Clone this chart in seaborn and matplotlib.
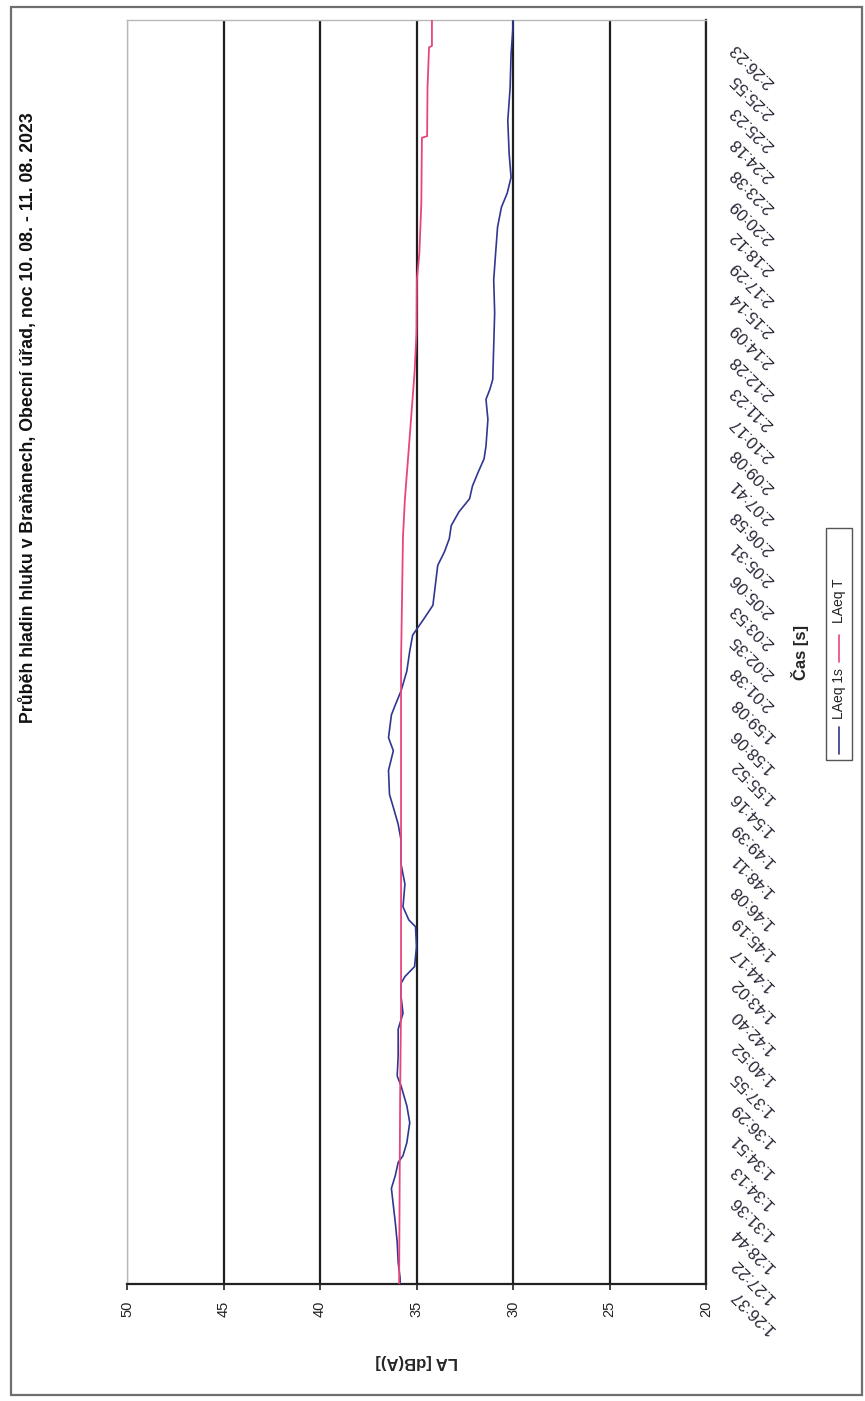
import numpy as np
import pandas as pd
import matplotlib
matplotlib.use("Agg")
import matplotlib.pyplot as plt
import seaborn as sns
from matplotlib import transforms as mtransforms
from matplotlib import patches
from matplotlib.lines import Line2D

# ---------------- data ----------------
title = "Průběh hladin hluku v Braňanech, Obecní úřad, noc 10. 08. - 11. 08. 2023"
time_labels = ["1:26:37", "1:27:22", "1:28:44", "1:31:36", "1:34:13", "1:34:51", "1:36:29",
               "1:37:55", "1:40:52", "1:42:40", "1:43:02", "1:44:17", "1:45:19", "1:46:08",
               "1:48:11", "1:49:39", "1:54:16", "1:55:52", "1:58:06", "1:59:08", "2:01:38",
               "2:02:35", "2:03:53", "2:05:06", "2:05:31", "2:06:58", "2:07:41", "2:09:08",
               "2:10:17", "2:11:23", "2:12:28", "2:14:09", "2:15:14", "2:17:29", "2:18:12",
               "2:20:09", "2:23:38", "2:24:18", "2:25:23", "2:25:55", "2:26:23"]
value_ticks = [50, 45, 40, 35, 30, 25, 20]

# position along the time axis, in label intervals (0 = 1:26:37, 40 = 2:26:23)
laeq1s_pos = [0.00, 0.19, 0.70, 1.34, 1.98, 2.52, 3.07, 3.48, 3.90, 4.12, 4.54, 5.18, 5.72,
              6.36, 6.68, 7.32, 8.18, 8.69, 9.23, 9.65, 9.87, 10.19, 10.83, 11.47, 11.69,
              12.11, 12.84, 13.48, 14.25, 14.76, 15.30, 15.72, 16.49, 17.12, 17.54, 18.27,
              18.59, 19.04, 19.68, 20.32, 20.83, 21.37, 21.79, 22.56, 23.07, 23.51, 23.93,
              24.35, 24.79, 25.21, 25.62, 26.07, 26.49, 26.90, 27.76, 28.40, 28.72, 29.04,
              30.10, 31.18, 32.24, 33.10, 33.93, 34.57, 35.02, 35.53, 36.29, 37.35, 38.40,
              39.49, 40.35, 40.58]
laeq1s_val = [35.85, 35.85, 35.95, 36.00, 36.10, 36.20, 36.30, 36.10, 35.95, 35.70, 35.50,
              35.35, 35.50, 35.80, 36.00, 35.95, 35.95, 35.70, 35.80, 35.80, 35.60, 35.10,
              35.00, 35.05, 35.40, 35.70, 35.60, 35.80, 35.80, 35.95, 36.20, 36.40, 36.45,
              36.20, 36.45, 36.30, 36.10, 35.80, 35.50, 35.35, 35.20, 34.60, 34.15, 34.00,
              33.90, 33.55, 33.30, 33.20, 32.80, 32.25, 32.10, 31.80, 31.50, 31.40, 31.30,
              31.40, 31.20, 31.05, 31.00, 30.95, 31.00, 30.90, 30.80, 30.60, 30.30, 30.10,
              30.20, 30.27, 30.15, 30.10, 30.00, 30.00]

laeqT_pos = [0.00, 5.90, 9.00, 20.00, 24.00, 25.20, 27.22, 29.27, 30.55, 32.24, 33.10,
             34.70, 36.80, 36.85, 38.40, 39.70, 39.75, 40.58]
laeqT_val = [35.90, 35.85, 35.80, 35.80, 35.70, 35.60, 35.35, 35.10, 35.00, 34.98, 34.85,
             34.75, 34.72, 34.45, 34.43, 34.35, 34.20, 34.20]

series_names = ["LAeq 1s", "LAeq T"]
series_colors = ["#2f3790", "#e8457f"]

# ---------------- style ----------------
sns.set_style("white")
plt.rcParams["font.family"] = ["Liberation Sans", "DejaVu Sans"]
NARROW = ["Liberation Sans Narrow", "Liberation Sans", "DejaVu Sans"]

W, H = 865, 1401
fig = plt.figure(figsize=(W / 100, H / 100), dpi=100)


def fx(x):
    return x / W


def fy(y):
    return 1 - y / H


L, R, T, B = 127, 706, 20, 1284
ax = fig.add_axes([fx(L), fy(B), (R - L) / W, (B - T) / H])

df1 = pd.DataFrame({"pos": laeq1s_pos, "LA": laeq1s_val})
df2 = pd.DataFrame({"pos": laeqT_pos, "LA": laeqT_val})
sns.lineplot(data=df1, x="LA", y="pos", orient="y", estimator=None, sort=True,
             color=series_colors[0], lw=1.2, ax=ax, legend=False, zorder=3)
sns.lineplot(data=df2, x="LA", y="pos", orient="y", estimator=None, sort=True,
             color=series_colors[1], lw=1.3, ax=ax, legend=False, zorder=4)

ax.set_xlim(50, 20)
ax.set_ylim(0, 40.58)
ax.set_xticks(value_ticks)
ax.set_xticklabels([str(v) for v in value_ticks], rotation=90, fontsize=10.5, color="#222222")
ax.set_yticks(range(len(time_labels)))
ax.set_yticklabels(time_labels)
ax.yaxis.tick_right()

ax.grid(axis="x", color="#1e1e1e", lw=1.6, zorder=1)
ax.grid(axis="y", visible=False)
ax.set_axisbelow(True)
ax.xaxis.get_major_ticks()[0].gridline.set_color("#b8b8b8")
ax.xaxis.get_major_ticks()[0].gridline.set_linewidth(1.0)

for s in ["left", "top"]:
    ax.spines[s].set_color("#b8b8b8")
    ax.spines[s].set_linewidth(1.0)
for s in ["right", "bottom"]:
    ax.spines[s].set_color("#222222")
    ax.spines[s].set_linewidth(1.6)

ax.tick_params(axis="x", bottom=True, length=4, width=1.2, color="#222222", pad=8)
ax.tick_params(axis="y", right=True, left=False, length=0, width=1.0, color="#222222",
               pad=0, labelsize=12, labelcolor="#262636")

ax.set_xlabel("LA [dB(A)]", rotation=180, fontsize=12, fontweight="bold")
ax.xaxis.set_label_coords(0.5, -(1362 - B) / (B - T))
ax.xaxis.label.set_ha("center")
ax.xaxis.label.set_va("center")

ax.yaxis.set_label_position("right")
ax.set_ylabel("Čas [s]", rotation=90, fontsize=12, fontweight="bold")
ax.yaxis.set_label_coords((800 - L) / (R - L), (B - 653) / (B - T))
ax.yaxis.label.set_ha("center")
ax.yaxis.label.set_va("center")
ax.yaxis.label.set_rotation_mode("default")

# rotated time labels (diagonal, upside-down like the scanned page)
offset = mtransforms.ScaledTranslation(27 / 100, -8 / 100, fig.dpi_scale_trans)
for t in ax.yaxis.get_major_ticks():
    lab = t.label2
    lab.set_rotation(135)
    lab.set_ha("right")
    lab.set_va("center")
    lab.set_rotation_mode("anchor")
    lab.set_transform(lab.get_transform() + offset)

# title (rotated page)
fig.text(fx(28), fy(418), title, rotation=90, ha="center", va="center",
         fontsize=12.8, fontweight="bold", family=NARROW, color="#111111")

# outer chart frame
fig.patches.append(patches.Rectangle((fx(11), fy(1395)), fx(862) - fx(11), fy(7) - fy(1395),
                                     transform=fig.transFigure, fill=False,
                                     edgecolor="#6e6e6e", lw=1.6))

# legend (rotated)
lx0, lx1, ly0, ly1 = 826, 852, 528, 760
fig.patches.append(patches.Rectangle((fx(lx0), fy(ly1)), fx(lx1) - fx(lx0), fy(ly0) - fy(ly1),
                                     transform=fig.transFigure, fill=False,
                                     edgecolor="#555555", lw=1.0))
cx = (lx0 + lx1) / 2
fig.add_artist(Line2D([fx(cx), fx(cx)], [fy(754), fy(727)], color=series_colors[0], lw=1.2,
                      transform=fig.transFigure))
fig.text(fx(cx), fy(694), series_names[0], rotation=90, ha="center", va="center",
         fontsize=10, family=NARROW, color="#222222")
fig.add_artist(Line2D([fx(cx), fx(cx)], [fy(662), fy(635)], color=series_colors[1], lw=1.2,
                      transform=fig.transFigure))
fig.text(fx(cx), fy(601), series_names[1], rotation=90, ha="center", va="center",
         fontsize=10, family=NARROW, color="#222222")

fig.savefig("out.png", dpi=100, facecolor="white")
